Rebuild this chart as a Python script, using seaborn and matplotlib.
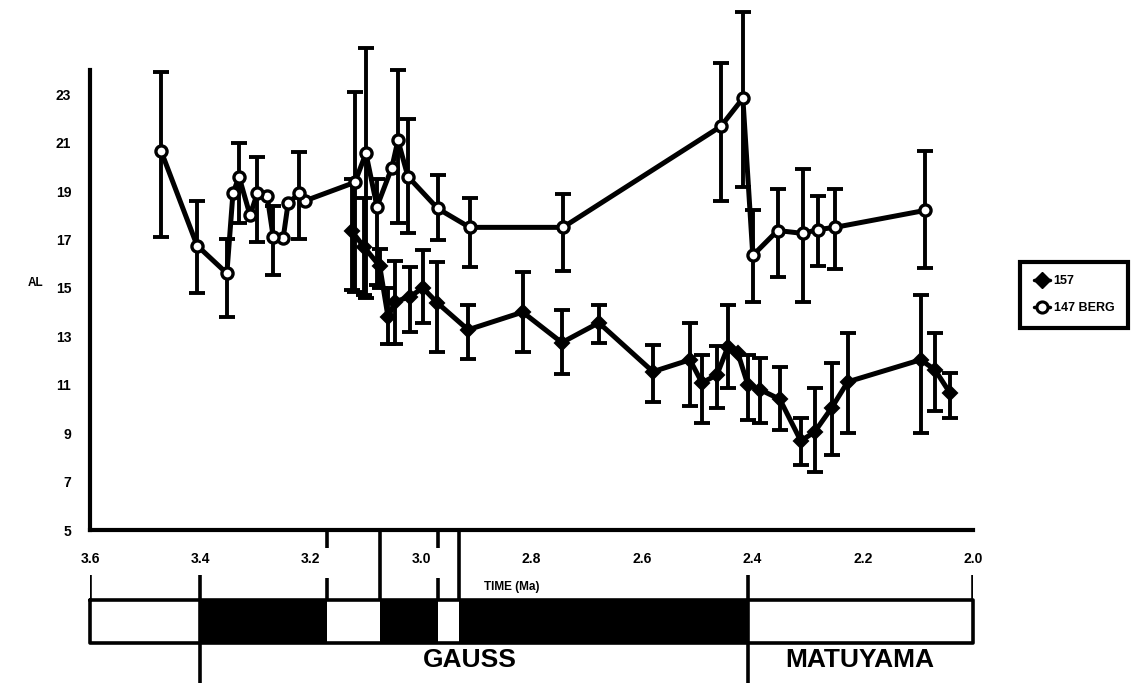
import numpy as np
import pandas as pd
import matplotlib
matplotlib.use("Agg")
import matplotlib.pyplot as plt
from matplotlib.lines import Line2D
import seaborn as sns

# ---- data: age (Ma), value, lower and upper error limits ----
berg_age = [3.471, 3.406, 3.352, 3.341, 3.330, 3.310, 3.297, 3.279, 3.268, 3.250,
            3.241, 3.221, 3.210, 3.120, 3.100, 3.080, 3.053, 3.042, 3.024, 2.970,
            2.912, 2.743, 2.457, 2.417, 2.399, 2.354, 2.308, 2.281, 2.250, 2.087]
berg_al = [20.64, 16.75, 15.6, 18.9, 19.6, 18.0, 18.9, 18.8, 17.1, 17.05,
           18.5, 18.9, 18.6, 19.36, 20.56, 18.36, 19.97, 21.1, 19.6, 18.28,
           17.5, 17.5, 21.67, 22.83, 16.34, 17.37, 17.25, 17.41, 17.5, 18.2]
berg_lo = [17.1, 14.8, 13.8, np.nan, 17.7, np.nan, 16.9, np.nan, 15.55, np.nan,
           np.nan, 17.0, np.nan, 14.85, 14.6, 15.1, np.nan, 17.7, 17.25, 16.96,
           15.85, 15.7, 18.57, 19.15, 14.4, 15.47, 14.4, 15.9, 15.78, 15.84]
berg_hi = [23.9, 18.6, 17.0, np.nan, 21.0, np.nan, 20.4, np.nan, 18.4, np.nan,
           np.nan, 20.6, np.nan, 23.1, 24.9, 19.5, np.nan, 24.0, 21.96, 19.65,
           18.7, 18.86, 24.3, 26.4, 18.2, 19.07, 19.9, 18.78, 19.07, 20.64]

s157_age = [3.125, 3.104, 3.075, 3.060, 3.047, 3.020, 2.997, 2.971, 2.915, 2.816,
            2.745, 2.678, 2.580, 2.513, 2.491, 2.464, 2.444, 2.426, 2.408, 2.386,
            2.350, 2.312, 2.287, 2.256, 2.227, 2.095, 2.069, 2.042]
s157_al = [17.33, 16.7, 15.9, 13.8, 14.43, 14.64, 15.0, 14.39, 13.27, 14.0,
           12.74, 13.56, 11.54, 12.03, 11.08, 11.41, 12.57, 12.3, 11.0, 10.8,
           10.4, 8.68, 9.05, 10.05, 11.12, 12.03, 11.62, 10.67]
s157_lo = [14.93, 14.7, 15.0, 12.7, 12.7, 13.19, 13.56, 12.36, 12.07, 12.36,
           11.45, 12.74, 10.3, 10.13, 9.43, 10.05, 10.87, np.nan, 9.55, 9.42,
           9.14, 7.69, 7.4, 8.1, 9.0, 9.0, 9.9, 9.63]
s157_hi = [19.5, 18.7, 16.6, 15.0, 16.1, 15.88, 16.58, 16.09, 14.3, 15.67,
           14.1, 14.3, 12.65, 13.56, 12.24, 12.6, 14.3, np.nan, 12.24, 12.1,
           11.74, 9.63, 10.87, 11.9, 13.15, 14.72, 13.15, 11.5]

x_ticks = [3.6, 3.4, 3.2, 3.0, 2.8, 2.6, 2.4, 2.2, 2.0]
y_ticks = [5, 7, 9, 11, 13, 15, 17, 19, 21, 23]

# polarity time scale (normal intervals drawn black)
normal_blocks = [(3.40, 3.17), (3.075, 2.97), (2.932, 2.408)]
chron_bounds = [3.40, 2.408]
chron_names = ["GAUSS", "MATUYAMA"]
chron_centres = [2.912, 2.205]
subchron_marks = [3.075, 2.932]

# ---- figure ----
W, H = 1146, 687
sns.set_theme(style="white")
plt.rcParams["font.family"] = ["Liberation Sans", "DejaVu Sans"]
plt.rcParams["font.weight"] = "bold"
plt.rcParams["text.color"] = "black"

fig = plt.figure(figsize=(W / 100, H / 100), dpi=100)
ax_l, ax_r, ax_t, ax_b = 90, 973, 70, 530
ax = fig.add_axes([ax_l / W, 1 - ax_b / H, (ax_r - ax_l) / W, (ax_b - ax_t) / H])

df_berg = pd.DataFrame({"age": berg_age, "al": berg_al, "lo": berg_lo, "hi": berg_hi})
df_157 = pd.DataFrame({"age": s157_age, "al": s157_al, "lo": s157_lo, "hi": s157_hi})

for df in (df_berg, df_157):
    ok = df.dropna()
    ax.errorbar(ok["age"], ok["al"], yerr=[ok["al"] - ok["lo"], ok["hi"] - ok["al"]],
                fmt="none", ecolor="black", elinewidth=2.8, capsize=5.5, capthick=2.8,
                clip_on=False, zorder=2)

sns.lineplot(data=df_157, x="age", y="al", ax=ax, color="black", lw=3.6,
             marker="D", markersize=7.5, markerfacecolor="black",
             markeredgecolor="black", markeredgewidth=1.5, clip_on=False, zorder=3)
sns.lineplot(data=df_berg, x="age", y="al", ax=ax, color="black", lw=3.6,
             marker="o", markersize=8, markerfacecolor="white",
             markeredgecolor="black", markeredgewidth=2.4, clip_on=False, zorder=4)

ax.set_xlim(3.6, 2.0)
ax.set_ylim(5, 24)
ax.set_xticks(x_ticks)
ax.set_xticklabels([f"{v:.1f}" for v in x_ticks])
ax.set_yticks(y_ticks)
ax.set_yticklabels([str(v) for v in y_ticks])
ax.set_xlabel("")
ax.set_ylabel("")
for side in ("top", "right"):
    ax.spines[side].set_visible(False)
for side in ("left", "bottom"):
    ax.spines[side].set_linewidth(3.0)
    ax.spines[side].set_color("black")
ax.tick_params(axis="both", direction="inout", length=9, width=2.8, colors="black",
               labelsize=10)
ax.tick_params(axis="x", pad=11)
ax.tick_params(axis="y", pad=9)
for lab in ax.get_xticklabels() + ax.get_yticklabels():
    lab.set_fontweight("bold")
ax.patch.set_alpha(0)

fig.text(36 / W, 1 - 283 / H, "AL", fontsize=8.5, fontweight="bold",
         ha="center", va="center", color="black")

# ---- polarity scale strip below the axis ----
ax2 = fig.add_axes([ax_l / W, 0, (ax_r - ax_l) / W, 1 - ax_b / H])
ax2.set_xlim(3.6, 2.0)
ax2.set_ylim(H, ax_b)
ax2.axis("off")
bar_top, bar_bot = 600, 643
for a, b in normal_blocks:
    ax2.fill_between([a, b], bar_top, bar_bot, color="black", lw=0)
ax2.plot([3.6, 2.0, 2.0, 3.6, 3.6], [bar_top, bar_top, bar_bot, bar_bot, bar_top],
         color="black", lw=2.6, clip_on=False)
ax2.vlines([3.6, 2.0], 575, bar_top, color="black", lw=2.6)
ax2.vlines(chron_bounds, 575, 683, color="black", lw=2.6)
ax2.vlines(subchron_marks, ax_b, bar_top, color="black", lw=2.6)
ax2.vlines([3.17, 2.97], [ax_b, ax_b], [548, 548], color="black", lw=2.6)
ax2.vlines([3.17, 2.97], [578, 578], [bar_top, bar_top], color="black", lw=2.6)
ax2.text(2.835, 587, "TIME (Ma)", fontsize=8.5, fontweight="bold",
         ha="center", va="center", color="black")
for name, c in zip(chron_names, chron_centres):
    ax2.text(c, 660, name, fontsize=19, fontweight="bold", ha="center", va="center",
             color="black")

# ---- legend ----
handles = [Line2D([], [], color="black", lw=2.5, marker="D", markersize=8,
                  markerfacecolor="black", markeredgecolor="black"),
           Line2D([], [], color="black", lw=2.5, marker="o", markersize=8,
                  markerfacecolor="white", markeredgecolor="black", markeredgewidth=2.2)]
leg = fig.legend(handles, ["157", "147 BERG"], loc="center",
                 bbox_to_anchor=(1074 / W, 1 - 295 / H), fancybox=False,
                 handlelength=1.3, handletextpad=0.3, borderpad=1.1, labelspacing=1.2,
                 prop={"size": 9, "weight": "bold"}, framealpha=1)
leg.get_frame().set_edgecolor("black")
leg.get_frame().set_linewidth(3.0)
for t in leg.get_texts():
    t.set_color("black")

fig.savefig("out.png", dpi=100)
